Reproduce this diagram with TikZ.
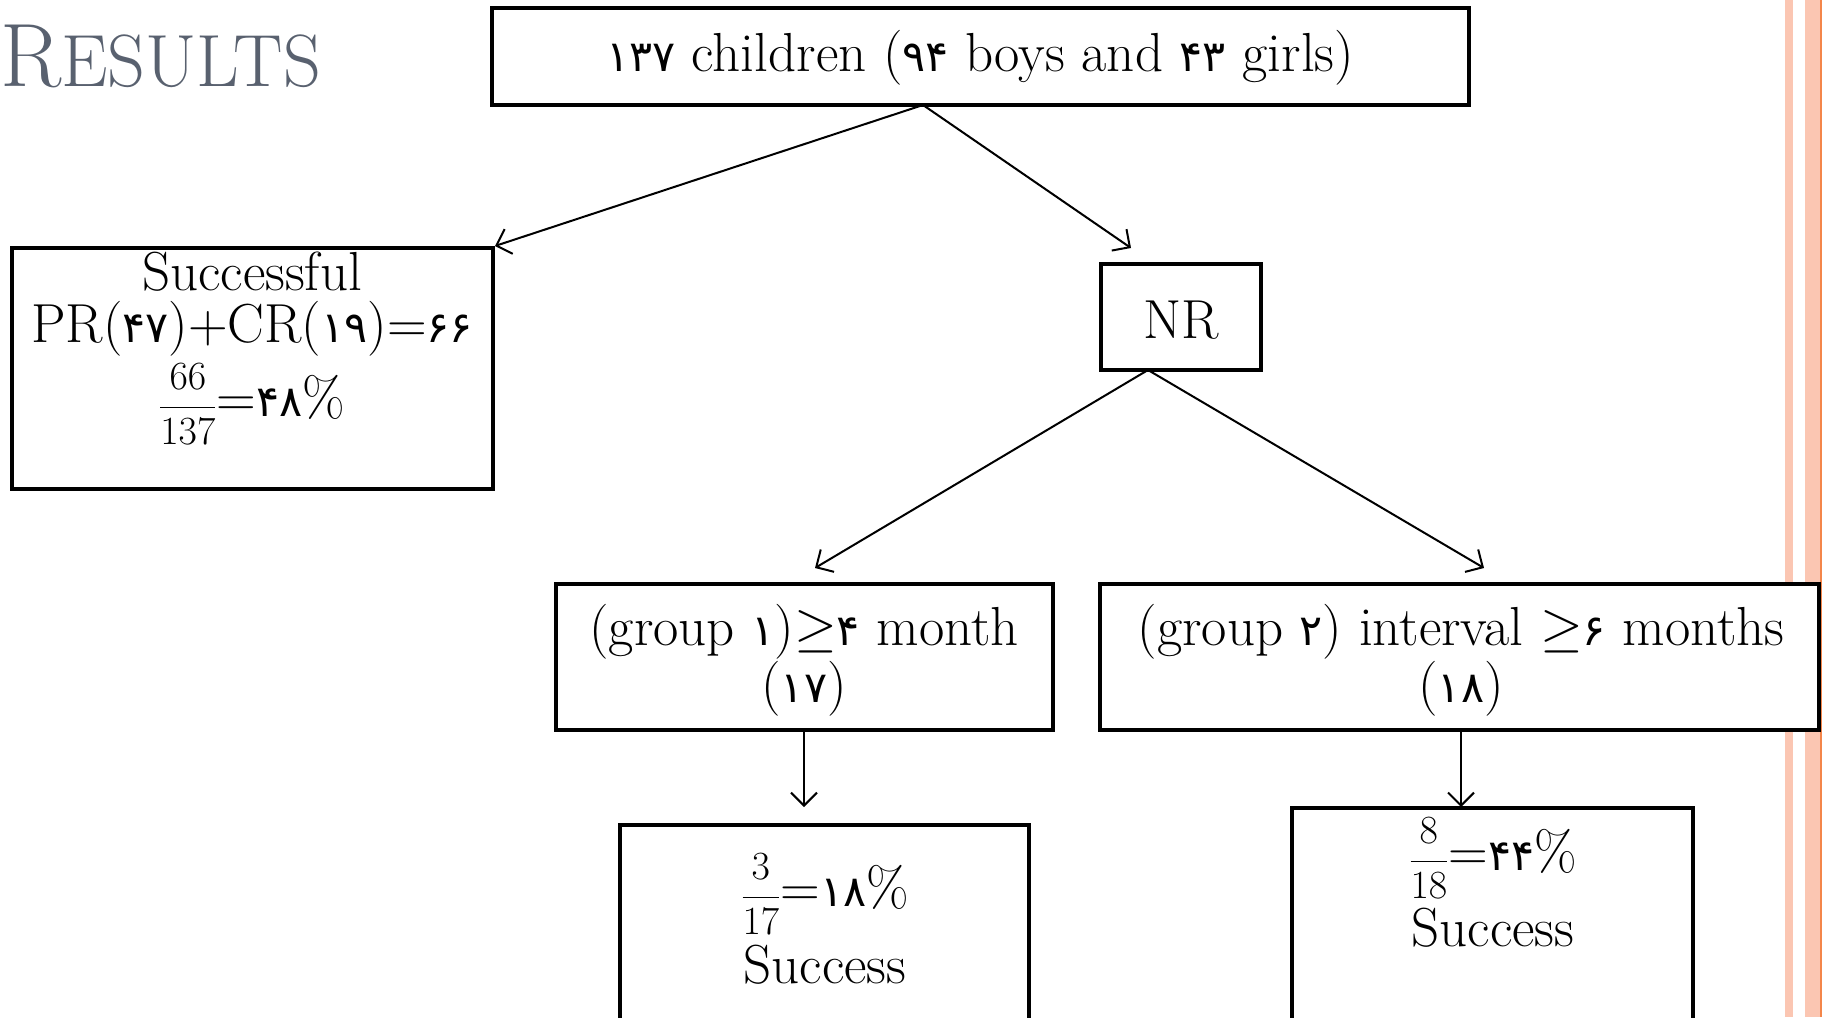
\RequirePackage{fix-cm}
\documentclass[tikz,border=0pt]{standalone}
\usepackage{fontspec}
\newfontfamily\pfont[Script=Arabic]{DejaVu Sans}
\usetikzlibrary{arrows.meta}
\definecolor{titlegray}{HTML}{59616F}
\definecolor{stripe}{HTML}{FBC6B2}
\definecolor{stripeline}{HTML}{F4864A}
\newcommand{\pd}[1]{{\pfont\fontsize{43}{50}\selectfont #1}}
\newcommand{\fr}[2]{{\fontsize{40}{46}\selectfont$\displaystyle\frac{#1}{#2}$}}
\begin{document}
\begin{tikzpicture}[x=1pt,y=-1pt,
  box/.style={draw=black, line width=4pt, fill=white, inner sep=0pt, rectangle},
  txt/.style={inner sep=0pt, font=\fontsize{55}{65}\selectfont},
  conn/.style={line width=2pt, -{Straight Barb[length=13pt,width=26pt]}}]
\clip (0,0) rectangle (1825,1017);
\fill[white] (0,0) rectangle (1825,1017);
% right stripes
\fill[stripe] (1785,0) rectangle (1793,1017);
\fill[stripe] (1805,0) rectangle (1820,1017);
\fill[stripeline] (1820,0) rectangle (1822,1017);
% title
\node[anchor=base west, inner sep=0pt, text=titlegray] (title) at (0,86)
  {{\fontsize{90}{92}\selectfont R}{\fontsize{74}{75}\selectfont ESULTS}};
% boxes
\node[box, minimum width=977pt, minimum height=97pt] (top) at (980.5,56.5) {};
\node[box, minimum width=481pt, minimum height=241pt] (succ) at (252.5,368.5) {};
\node[box, minimum width=160pt, minimum height=106pt] (nr) at (1181,317) {};
\node[box, minimum width=497pt, minimum height=146pt] (g1) at (804.5,657) {};
\node[box, minimum width=719pt, minimum height=146pt] (g2) at (1459.5,657) {};
\node[box, minimum width=409pt, minimum height=230pt] (bl) at (824.5,940) {};
\node[box, minimum width=401pt, minimum height=246pt] (br) at (1492.5,931) {};
% texts
\node[txt] (toptxt) at (980,58) {\pd{۱۳۷} children (\pd{۹۴} boys and \pd{۴۳} girls)};
\node[txt] (s1) at (252,272) {Successful};
\node[txt] (s2) at (252,329) {PR(\pd{۴۷})+CR(\pd{۱۹})=\pd{۶۶}};
\node[txt] (s3) at (252,404) {\fr{66}{137}=\pd{۴۸}\%};
\node[txt] (nrtxt) at (1181,320) {NR};
\node[txt] (g1a) at (804,632) {(group \pd{۱})$\geq$\pd{۴} month};
\node[txt] (g1b) at (804,689) {(\pd{۱۷})};
\node[txt] (g2a) at (1461,632) {(group \pd{۲}) interval $\geq$\pd{۶} months};
\node[txt] (g2b) at (1461,689) {(\pd{۱۸})};
\node[txt] (bl1) at (825,894) {\fr{3}{17}=\pd{۱۸}\%};
\node[txt] (bl2) at (825,965) {Success};
\node[txt] (br1) at (1493,858) {\fr{8}{18}=\pd{۴۴}\%};
\node[txt] (br2) at (1493,928) {Success};
% connector anchor points
\coordinate (topout) at (923,105);
\coordinate (nrin) at (1131,248);
\coordinate (nrout) at (1148,370);
\coordinate (g1in) at (815,568);
\coordinate (g2in) at (1484,568);
\coordinate (g1out) at (804,730);
\coordinate (blin) at (804,807);
\coordinate (g2out) at (1461,730);
\coordinate (brin) at (1461,807);
% connectors
\draw[conn] (topout) -- (succ.north east);
\draw[conn] (topout) -- (nrin);
\draw[conn] (nrout) -- (g1in);
\draw[conn] (nrout) -- (g2in);
\draw[conn] (g1out) -- (blin);
\draw[conn] (g2out) -- (brin);
\end{tikzpicture}
\end{document}
